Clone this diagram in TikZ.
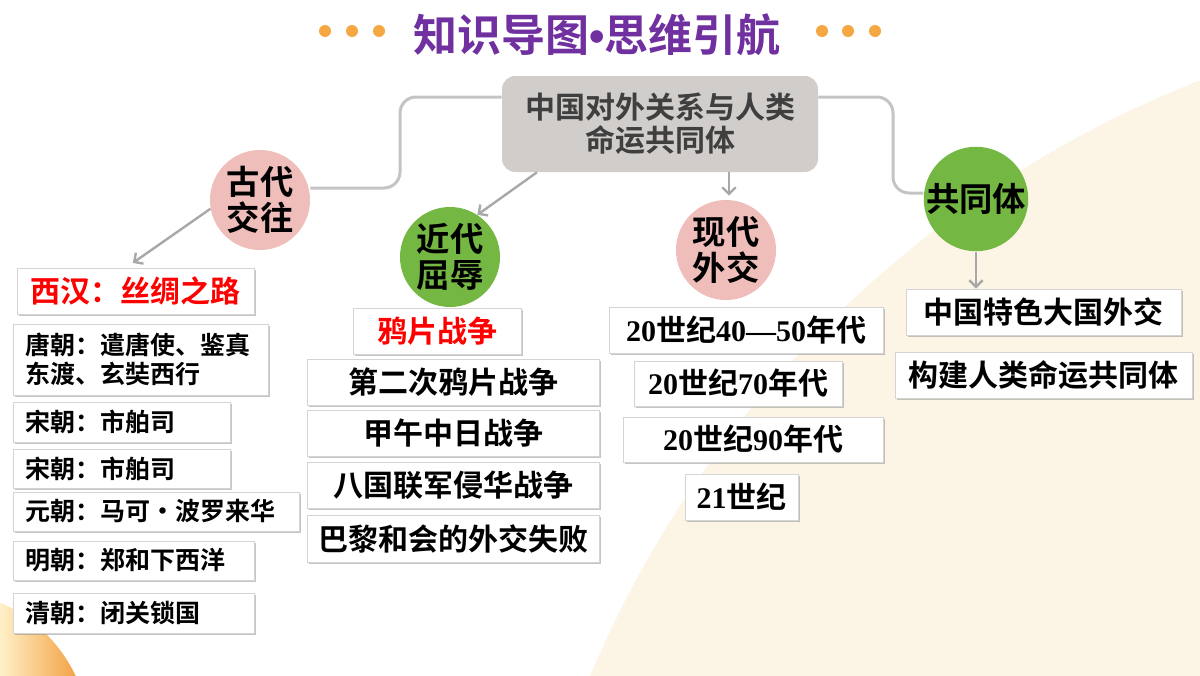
\documentclass[tikz,border=0pt]{standalone}
\usepackage{fontspec}
\setmainfont{Noto Sans CJK SC}[BoldFont={Noto Sans CJK SC Bold}]
\newfontfamily\dgfont{Liberation Serif}
\newfontfamily\bulfont{Liberation Sans}
\usetikzlibrary{arrows.meta,shadows}
\definecolor{creamc}{HTML}{FCF5E6}
\definecolor{titlec}{HTML}{7030A0}
\definecolor{dotc}{HTML}{F4A742}
\definecolor{cengray}{HTML}{D0CDCB}
\definecolor{txtgray}{HTML}{3F3F3F}
\definecolor{conngray}{HTML}{C4C4C4}
\definecolor{arrgray}{HTML}{A8A8A8}
\definecolor{pinkc}{HTML}{EFBDBA}
\definecolor{greenc}{HTML}{74B843}
\definecolor{bordc}{HTML}{D4D4D4}
\definecolor{redc}{HTML}{FF0000}
\definecolor{orlight}{HTML}{FFF0C8}
\definecolor{ordark}{HTML}{F0952E}
\newcommand\dgn[1]{{\dgfont\bfseries #1}}
\begin{document}
\begin{tikzpicture}[x=0.75pt,y=-0.75pt,
  conn/.style={draw=conngray, line width=2.25pt, rounded corners=12pt},
  arr/.style={draw=arrgray, line width=1.8pt, -{Straight Barb[length=5pt,width=10pt]}},
  circ/.style={circle, minimum size=75pt, inner sep=0pt, align=center,
    font=\bfseries\fontsize{25}{27}\selectfont},
  cbox/.style={rounded corners=10pt, fill=cengray, minimum width=237pt, minimum height=72pt,
    align=center, text=txtgray, font=\bfseries\fontsize{22.5}{25}\selectfont},
  boxc/.style={draw=bordc, line width=0.6pt, fill=white, inner sep=0pt,
    drop shadow={shadow xshift=1.5pt, shadow yshift=-1.5pt, fill=black!45, opacity=.5},
    font=\bfseries\fontsize{22.5}{26}\selectfont},
  boxl/.style={boxc, align=left, inner xsep=9pt, inner ysep=0pt,
    font=\bfseries\fontsize{18.75}{22}\selectfont}
]
\useasboundingbox (0,0) rectangle (1200,675);
\fill[white] (0,0) rectangle (1200,675);
\begin{scope}
  \clip (0,0) rectangle (1200,675);
  \fill[creamc] (1600,1100) circle (1095);
  \begin{scope}
    \clip (-60,740) circle (150);
    \shade[left color=orlight, right color=ordark] (0,585) rectangle (90,675);
  \end{scope}
\end{scope}
% title
\node[text=titlec, font=\bfseries\fontsize{33}{36}\selectfont] (title) at (597,35) {知识导图{\bulfont\bfseries •}思维引航};
\foreach \xx in {325,352,379,822,848,875} \fill[dotc] (\xx,31) circle (6);
% central
\node[cbox] (cen) at (660,124) {中国对外关系与人类\\命运共同体};
% circles
\node[circ, fill=pinkc] (gudai) at (260,200) {古代\\交往};
\node[circ, fill=greenc] (jindai) at (450,257) {近代\\屈辱};
\node[circ, fill=pinkc] (xiandai) at (726,250) {现代\\外交};
\node[circ, fill=greenc] (gongtong) at (976,199) {共同体};
% left column
\node[boxc, text=redc, minimum width=177.75pt, minimum height=34.5pt] (xihan) at (135.5,291) {西汉：丝绸之路};
\node[boxl, text width=173.25pt, minimum height=53.25pt] (tang) at (140.5,359.5) {唐朝：遣唐使、鉴真\\东渡、玄奘西行};
\node[boxl, text width=144.75pt, minimum height=30pt] (song1) at (121.5,422) {宋朝：市舶司};
\node[boxl, text width=144.75pt, minimum height=29.25pt] (song2) at (121.5,468.5) {宋朝：市舶司};
\node[boxl, text width=196.5pt, minimum height=29.25pt] (yuan) at (156,511.5) {元朝：马可・波罗来华};
\node[boxl, text width=162.75pt, minimum height=29.25pt] (ming) at (133.5,560.5) {明朝：郑和下西洋};
\node[boxl, text width=162.75pt, minimum height=30pt] (qing) at (133.5,613) {清朝：闭关锁国};
% middle column
\node[boxc, text=redc, minimum width=126pt, minimum height=34.5pt] (yapian) at (437,331) {鸦片战争};
\node[boxc, minimum width=219pt, minimum height=34.5pt] (di2) at (453,382) {第二次鸦片战争};
\node[boxc, minimum width=219pt, minimum height=34.5pt] (jiawu) at (453,433) {甲午中日战争};
\node[boxc, minimum width=219pt, minimum height=34.5pt] (baguo) at (453,485) {八国联军侵华战争};
\node[boxc, minimum width=219pt, minimum height=35.25pt] (bali) at (453,538.5) {巴黎和会的外交失败};
% modern column
\node[boxc, minimum width=205.5pt, minimum height=34.5pt] (m1) at (746,330) {\dgn{20}世纪\dgn{40—50}年代};
\node[boxc, minimum width=156pt, minimum height=33.75pt] (m2) at (738,383.5) {\dgn{20}世纪\dgn{70}年代};
\node[boxc, minimum width=195pt, minimum height=33.75pt] (m3) at (753,439.5) {\dgn{20}世纪\dgn{90}年代};
\node[boxc, minimum width=84.75pt, minimum height=34.5pt] (m4) at (741.5,497) {\dgn{21}世纪};
% right column
\node[boxc, minimum width=206.25pt, minimum height=34.5pt] (r1) at (1043.5,312) {中国特色大国外交};
\node[boxc, minimum width=222.75pt, minimum height=34.5pt] (r2) at (1043.5,375) {构建人类命运共同体};
% connectors
\draw[conn] ([yshift=20.25pt]cen.west) -- (400,97) -- (400,188) -- ([yshift=9pt]gudai.east);
\draw[conn] ([yshift=20.25pt]cen.east) -- (893,97) -- (893,193) -- ([yshift=4.5pt]gongtong.west);
\draw[arr] ([xshift=-92.25pt]cen.south) -- (jindai.57);
\draw[arr] ([xshift=51.75pt]cen.south) -- ([xshift=2.25pt,yshift=3pt]xiandai.north);
\draw[arr] (gudai.190) -- ([xshift=-2pt,yshift=3.5pt]xihan.north);
\draw[arr] (gongtong.south) -- (gongtong.south |- r1.north);
\end{tikzpicture}
\end{document}
